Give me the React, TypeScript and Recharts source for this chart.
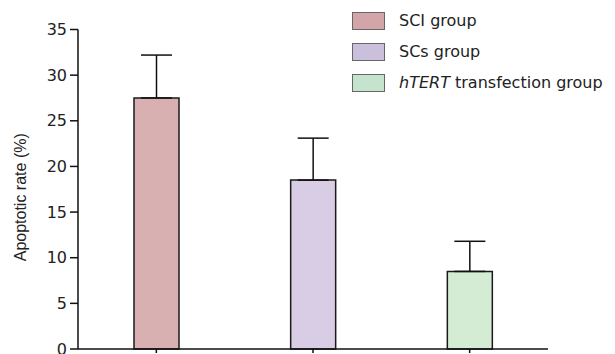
import { BarChart, Bar, XAxis, YAxis, ErrorBar, Cell, Label } from "recharts";

// groups, means and upper SD
const groups = ["SCI group", "SCs group", "hTERT transfection group"];
const rates = [27.5, 18.5, 8.5];
const sds = [4.7, 4.6, 3.3];
const barColors = ["#d9b0b1", "#d9cde6", "#d4ebd4"];
const legendColors = ["#d4a5a8", "#cbc0dc", "#c6e3cd"];
const yTicks = [0, 5, 10, 15, 20, 25, 30, 35];

const data = groups.map((g, i) => ({
  group: g,
  rate: rates[i],
  err: [0, sds[i]],
}));

const font = "'DejaVu Sans', sans-serif";
const labelFont = "'Liberation Sans', Arial, sans-serif";

function LegendBox() {
  return (
    <div
      style={{
        position: "absolute",
        left: 352,
        top: 5,
        fontFamily: font,
        fontSize: 16,
        color: "#222",
        whiteSpace: "nowrap",
      }}
    >
      {groups.map((g, i) => (
        <div key={g} style={{ display: "flex", alignItems: "center", height: 31 }}>
          <span
            style={{
              display: "inline-block",
              width: 31,
              height: 16,
              background: legendColors[i],
              border: "1px solid #666",
              marginRight: 14,
            }}
          />
          {i === 2 ? (
            <span>
              <i>hTERT</i> transfection group
            </span>
          ) : (
            <span>{g}</span>
          )}
        </div>
      ))}
    </div>
  );
}

export default function App() {
  return (
    <div style={{ position: "absolute", left: 0, top: 0, width: 615, height: 354 }}>
      <BarChart
        width={615}
        height={354}
        data={data}
        margin={{ top: 29.5, right: 67, bottom: 0, left: 0 }}
      >
        <XAxis
          dataKey="group"
          height={5}
          tickSize={4}
          tick={() => <g />}
          axisLine={{ stroke: "#111", strokeWidth: 1.5 }}
          tickLine={{ stroke: "#111", strokeWidth: 1.5 }}
        />
        <YAxis
          width={78}
          domain={[0, 35]}
          ticks={yTicks}
          interval={0}
          tickSize={8}
          tickMargin={3}
          tick={{ fill: "#222", fontSize: 16, fontFamily: font }}
          axisLine={{ stroke: "#111", strokeWidth: 1.5 }}
          tickLine={{ stroke: "#111", strokeWidth: 1.5 }}
        >
          <Label
            value="Apoptotic rate (%)"
            angle={-90}
            position="insideLeft"
            offset={20}
            dy={8}
            style={{ textAnchor: "middle", fill: "#222", fontSize: 16, fontFamily: labelFont }}
          />
        </YAxis>
        <Bar dataKey="rate" barSize={45} stroke="#1a1a1a" strokeWidth={1.5} isAnimationActive={false}>
          {data.map((d, i) => (
            <Cell key={d.group} fill={barColors[i]} />
          ))}
          <ErrorBar dataKey="err" width={15.5} stroke="#111" strokeWidth={1.5} direction="y" />
        </Bar>
      </BarChart>
      <LegendBox />
    </div>
  );
}
